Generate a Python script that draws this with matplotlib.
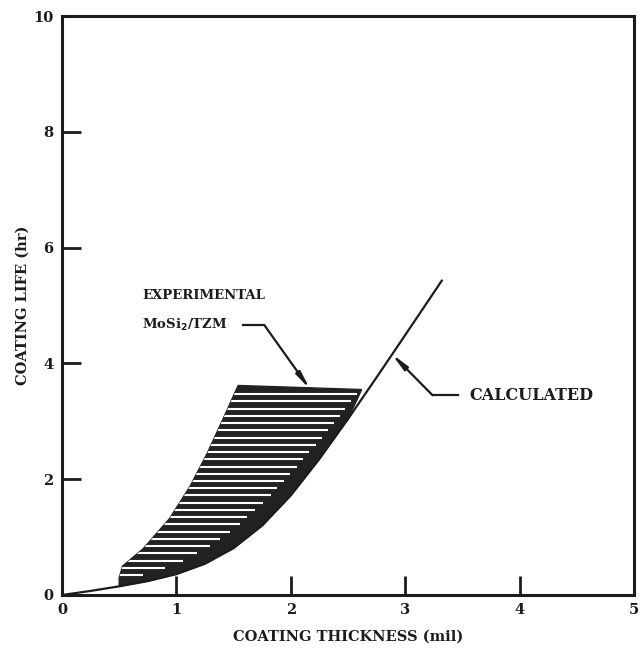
import matplotlib
matplotlib.use("Agg")
import matplotlib.pyplot as plt
import numpy as np
from matplotlib.patches import Polygon

# Calculated coating life curve (mil, hr)
calc_x = [0.0, 0.25, 0.5, 0.75, 1.0, 1.25, 1.5, 1.75, 2.0, 2.25, 2.5, 2.75, 3.0, 3.32]
calc_y = [0.0, 0.07, 0.15, 0.24, 0.36, 0.54, 0.81, 1.20, 1.72, 2.35, 3.04, 3.76, 4.49, 5.43]

# Experimental band (MoSi2/TZM) upper boundary
exp_upper_x = [0.5, 0.5, 0.53, 0.71, 0.94, 1.12, 1.27, 1.41, 1.54, 2.62]
exp_upper_y = [0.15, 0.30, 0.50, 0.80, 1.32, 1.88, 2.45, 3.05, 3.62, 3.55]

xticks = [0, 1, 2, 3, 4, 5]
yticks = [0, 2, 4, 6, 8, 10]

INK = "#1c1c1c"

fig = plt.figure(figsize=(6.41, 6.48), dpi=100)
ax = fig.add_axes([0.0967, 0.0818, 0.8923, 0.8932])
ax.set_xlim(0, 5)
ax.set_ylim(0, 10)

font = dict(family="DejaVu Serif", weight="bold", color=INK)

# experimental band polygon: upper boundary then calculated curve back down
lo_pairs = [(x, y) for x, y in zip(calc_x, calc_y) if exp_upper_x[0] < x <= 2.5]
poly_x = exp_upper_x + [p[0] for p in lo_pairs[::-1]]
poly_y = exp_upper_y + [p[1] for p in lo_pairs[::-1]]
poly = Polygon(np.column_stack([poly_x, poly_y]), closed=True,
               facecolor="#222222", edgecolor="#222222", lw=1.0, zorder=2)
ax.add_patch(poly)

# white horizontal hatch lines (decoration), ending short of the lower-right edge
y_top = max(exp_upper_y)
for yl in np.arange(0.22, y_top - 0.05, 0.125):
    xr = float(np.interp(yl, calc_y, calc_x))
    frac = yl / y_top
    gap = 0.22 * (1 - frac) + 0.06
    ln, = ax.plot([0.45, xr - gap], [yl, yl], color="white", lw=1.5, zorder=3,
                  solid_capstyle="butt")
    ln.set_clip_path(poly)

ax.plot(calc_x, calc_y, color=INK, lw=1.6, zorder=4, solid_joinstyle="round")

# spines and ticks
for s in ax.spines.values():
    s.set_linewidth(2.2)
    s.set_color(INK)
ax.set_xticks(xticks)
ax.set_yticks(yticks)
ax.tick_params(direction="in", length=14, width=2, color=INK,
               labelsize=10.5, pad=6)
for lab in ax.get_xticklabels() + ax.get_yticklabels():
    lab.set_fontfamily("DejaVu Serif")
    lab.set_fontweight("bold")
    lab.set_color(INK)

ax.set_xlabel("COATING THICKNESS (mil)", fontsize=10.5, labelpad=9, **font)
ax.set_ylabel("COATING LIFE (hr)", fontsize=10.5, labelpad=3, **font)

# annotations
ax.text(0.70, 5.17, "EXPERIMENTAL", fontsize=9.5, va="center", ha="left", **font)
ax.text(0.70, 4.66, r"MoSi$_\mathbf{2}$/TZM", fontsize=9.5, va="center", ha="left", **font)
ax.plot([1.58, 1.77], [4.66, 4.66], color=INK, lw=1.6)
ax.annotate("", xy=(2.17, 3.55), xytext=(1.77, 4.66),
            arrowprops=dict(arrowstyle="-|>,head_length=1.0,head_width=0.15",
                            color=INK, lw=1.6, shrinkA=0, shrinkB=0))

ax.text(3.56, 3.45, "CALCULATED", fontsize=11.5, va="center", ha="left", **font)
ax.plot([3.24, 3.46], [3.45, 3.45], color=INK, lw=1.6)
ax.annotate("", xy=(2.88, 4.17), xytext=(3.24, 3.45),
            arrowprops=dict(arrowstyle="-|>,head_length=1.0,head_width=0.15",
                            color=INK, lw=1.6, shrinkA=0, shrinkB=0))

fig.savefig("out.png", dpi=100)
